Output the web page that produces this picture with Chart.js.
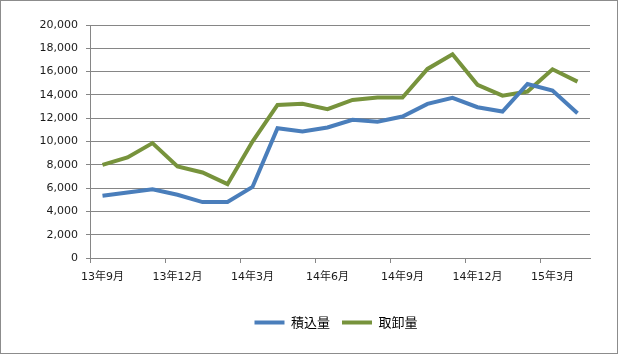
<!DOCTYPE html>
<html>
<head>
<meta charset="utf-8">
<script src="https://cdn.jsdelivr.net/npm/chart.js@4"></script>
<style>
  html, body { margin: 0; padding: 0; background: #fff; }
  #wrap {
    position: absolute; left: 0; top: 0;
    width: 618px; height: 354px;
    box-sizing: border-box;
    border: 1px solid #8c8c8c;
    background: #fff;
  }
  #box { position: relative; width: 616px; height: 352px; }
</style>
</head>
<body>
<div id="wrap"><div id="box"><canvas id="chart"></canvas></div></div>
<script>
// months on the category axis (every 3rd one is labelled)
const months = [
  "13年9月", "13年10月", "13年11月", "13年12月", "14年1月", "14年2月",
  "14年3月", "14年4月", "14年5月", "14年6月", "14年7月", "14年8月",
  "14年9月", "14年10月", "14年11月", "14年12月", "15年1月", "15年2月",
  "15年3月", "15年4月"
];

// 積込量 (loading)
const loading = [
  5350, 5630, 5900, 5430, 4800, 4800, 6100, 11140, 10860, 11200,
  11860, 11690, 12140, 13230, 13740, 12940, 12570, 14940, 14370, 12430
];

// 取卸量 (unloading)
const unloading = [
  8000, 8630, 9860, 7860, 7340, 6340, 10000, 13140, 13230, 12770,
  13570, 13770, 13770, 16230, 17490, 14860, 13940, 14290, 16200, 15140
];

const yMax = 20000;
const yStep = 2000;
const labelEvery = 3;

const gridGray = "#868686";
const textColor = "#1a1a1a";
const font = "'DejaVu Sans', 'Noto Sans CJK JP', sans-serif";

// legend is centred under the plot area, not the whole canvas
const legendUnderPlot = {
  id: "legendUnderPlot",
  afterLayout(chart) {
    const lg = chart.legend;
    if (!lg) return;
    const area = chart.chartArea;
    const shift = (area.left + area.right) / 2 - (lg.left + lg.right) / 2 - 4;
    lg.left += shift;
    lg.right += shift;
    if (lg.legendHitBoxes) lg.legendHitBoxes.forEach((b) => (b.left += shift));
  },
};

const ctx = document.getElementById("chart").getContext("2d");

new Chart(ctx, {
  type: "line",
  data: {
    labels: months,
    datasets: [
      {
        label: "積込量",
        data: loading,
        borderColor: "#4a7ebb",
        backgroundColor: "#4a7ebb",
        borderWidth: 4,
        pointRadius: 0,
        tension: 0,
      },
      {
        label: "取卸量",
        data: unloading,
        borderColor: "#77933c",
        backgroundColor: "#77933c",
        borderWidth: 4,
        pointRadius: 0,
        tension: 0,
      },
    ],
  },
  plugins: [legendUnderPlot],
  options: {
    responsive: true,
    maintainAspectRatio: false,
    animation: false,
    layout: { padding: { left: 0, right: 27, top: 24, bottom: 14 } },
    plugins: {
      tooltip: { enabled: false },
      legend: {
        position: "bottom",
        labels: {
          boxWidth: 30,
          boxHeight: 4,
          padding: 12,
          color: "#000",
          font: { family: "'Noto Sans CJK JP', sans-serif", size: 13 },
          generateLabels: (chart) =>
            Chart.defaults.plugins.legend.labels
              .generateLabels(chart)
              .map((it) => ({ ...it, lineWidth: 0 })),
        },
      },
    },
    scales: {
      x: {
        offset: true,
        grid: {
          offset: true,
          drawOnChartArea: false,
          drawTicks: true,
          tickLength: 5,
          tickColor: (c) =>
            c.index !== undefined && c.index % labelEvery === 0 ? gridGray : "rgba(0,0,0,0)",
        },
        border: { display: true, color: gridGray },
        ticks: {
          autoSkip: false,
          maxRotation: 0,
          minRotation: 0,
          padding: 8,
          color: textColor,
          font: { family: font, size: 11 },
          callback: function (val, i) {
            return i % labelEvery === 0 ? this.getLabelForValue(val) : "";
          },
        },
        afterFit: (s) => { s.height = 46; },
      },
      y: {
        min: 0,
        max: yMax,
        grid: { color: gridGray, tickLength: 4, tickColor: gridGray },
        border: { display: true, color: gridGray },
        ticks: {
          stepSize: yStep,
          padding: 8,
          color: textColor,
          font: { family: font, size: 11 },
          callback: (v) => v.toLocaleString("en-US"),
        },
        afterFit: (s) => { s.width = 89; },
      },
    },
  },
});
</script>
</body>
</html>
